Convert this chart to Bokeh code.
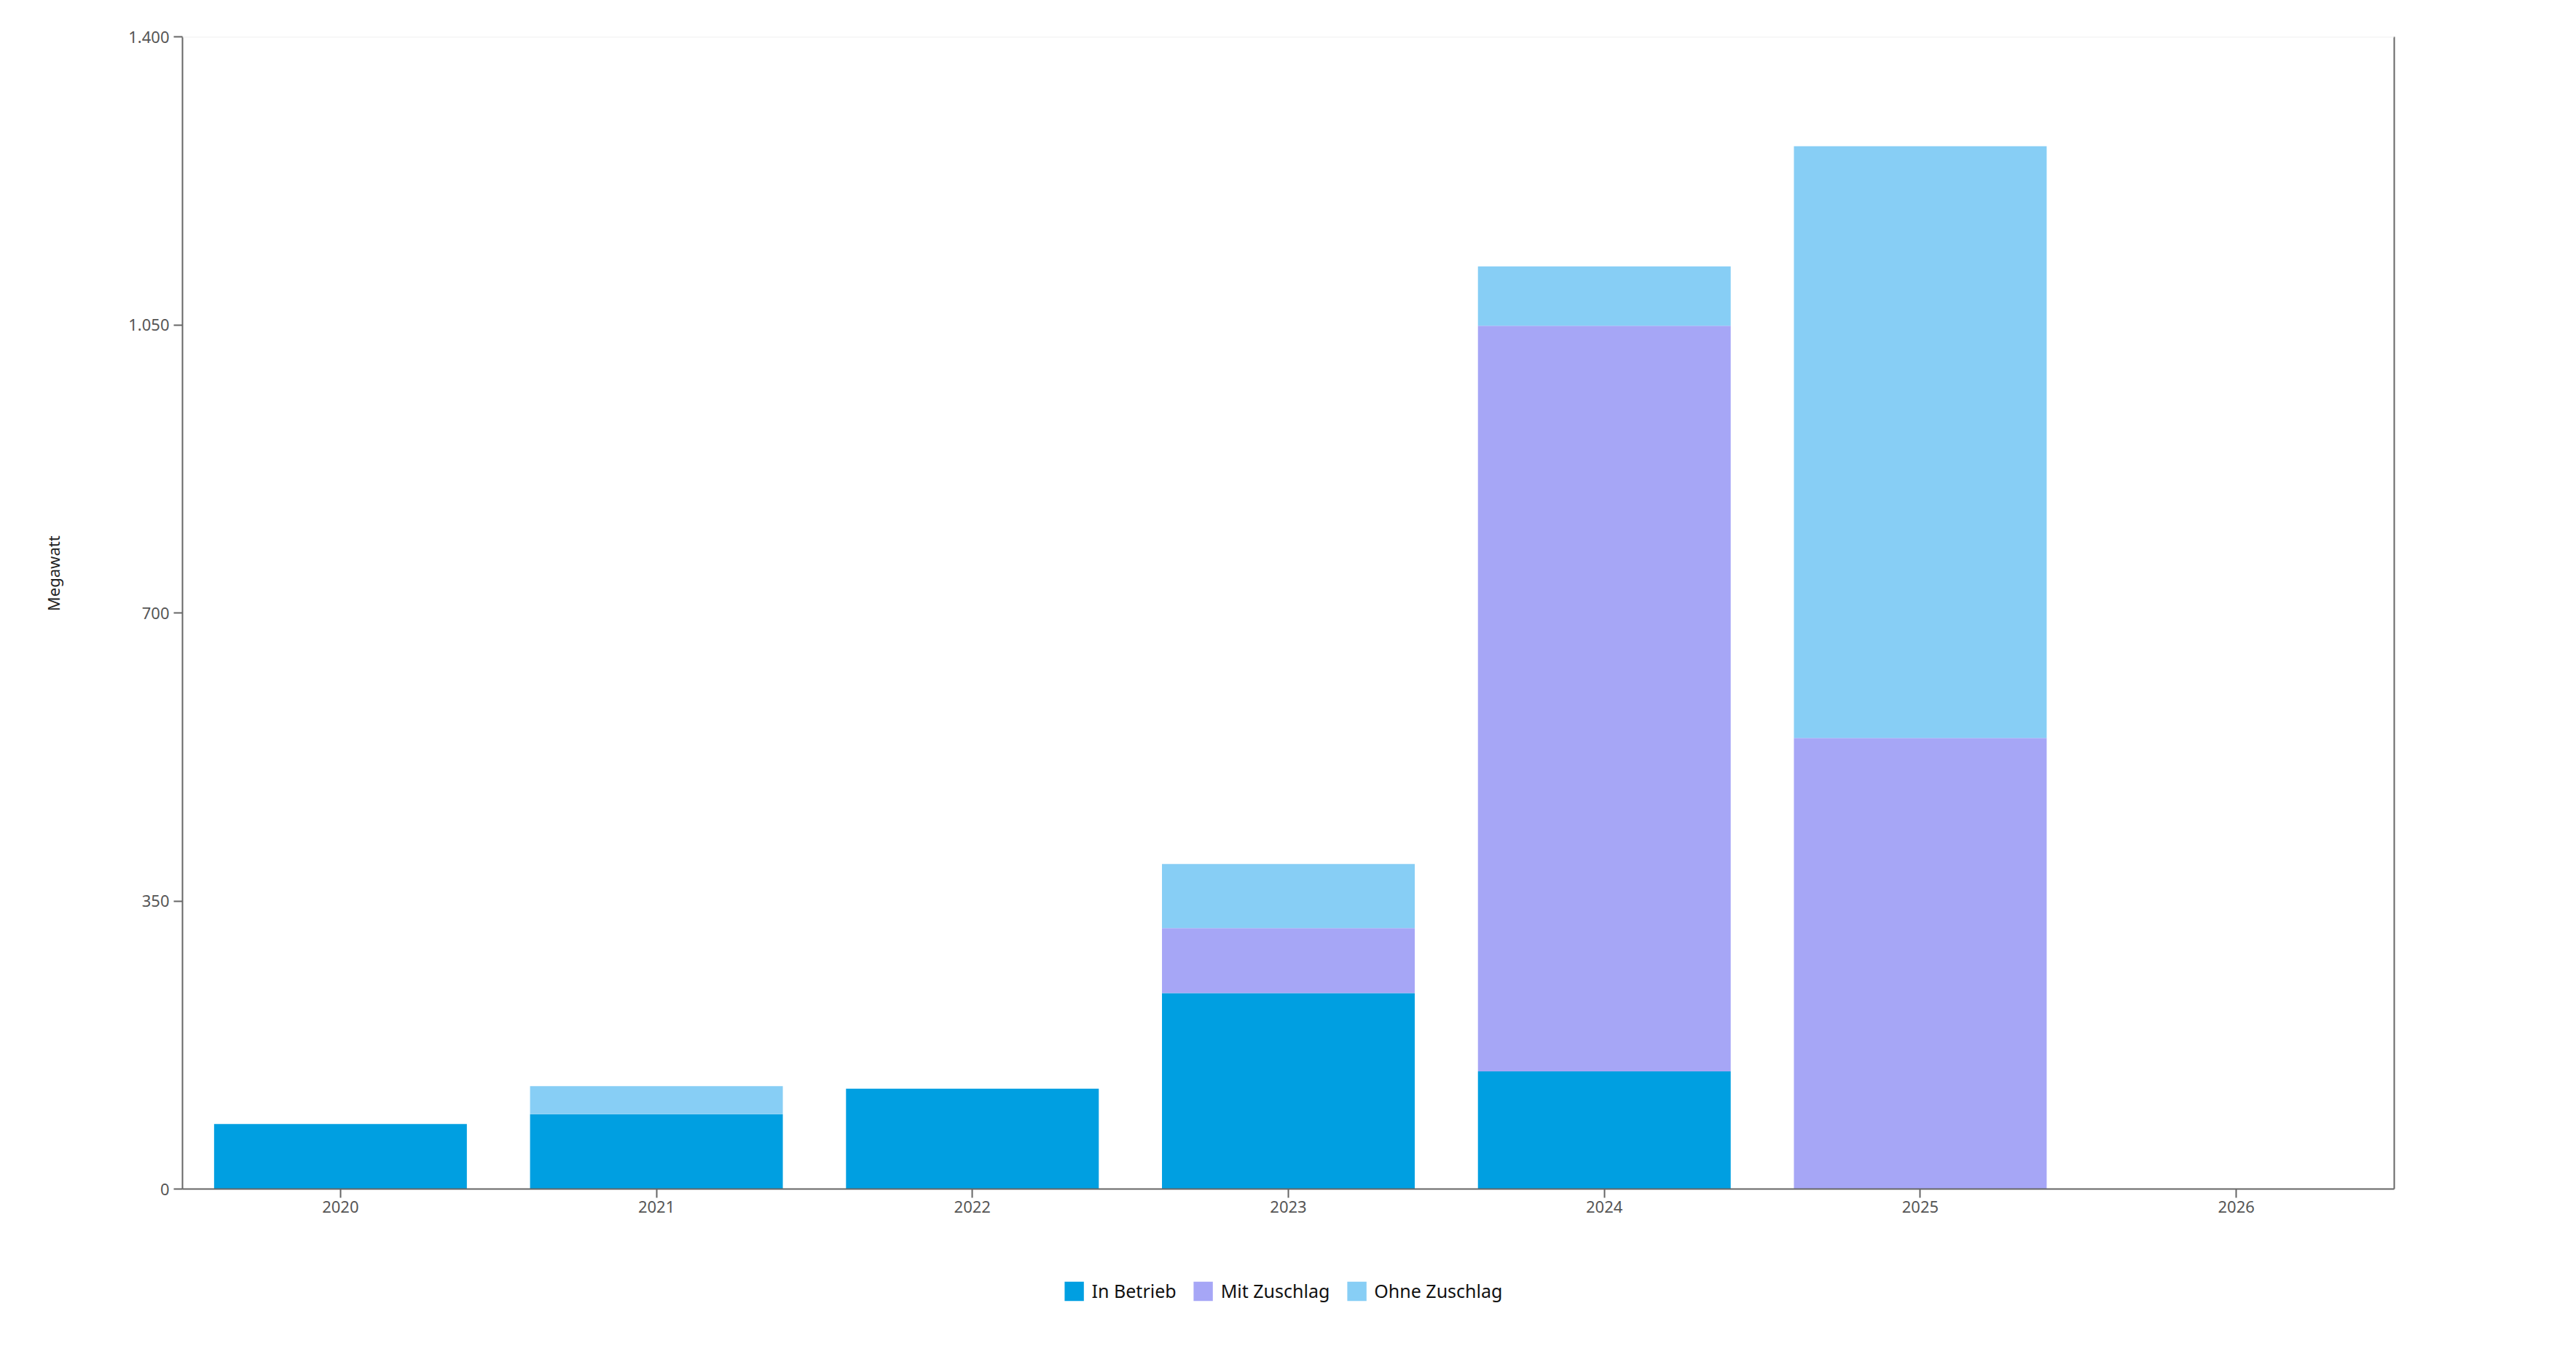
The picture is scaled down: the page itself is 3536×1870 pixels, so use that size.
import math
from bokeh.plotting import figure
from bokeh.layouts import column, row
from bokeh.models import (FactorRange, Range1d, FixedTicker, LinearAxis, Span,
                          Legend, LegendItem, ColumnDataSource)
from bokeh.core.properties import value
from bokeh.embed import file_html
from bokeh.resources import INLINE

years = ["2020", "2021", "2022", "2023", "2024", "2025", "2026"]
in_betrieb = [79, 91, 122, 238, 143, 0, 0]
mit_zuschlag = [0, 0, 0, 79, 906, 548, 0]
ohne_zuschlag = [0, 34, 0, 78, 72, 719, 0]
series = ["In Betrieb", "Mit Zuschlag", "Ohne Zuschlag"]
colors = ["#009FE1", "#A6A6F6", "#87CEF5"]
y_ticks = [0, 350, 700, 1050, 1400]
y_tick_labels = ["0", "350", "700", "1.050", "1.400"]
y_title = "Megawatt"

FONT = "Noto Sans"
W = 3520
YW = 140          # width of the strip holding the y title
H = 1700

src = ColumnDataSource(dict(year=years, **{
    series[0]: in_betrieb, series[1]: mit_zuschlag, series[2]: ohne_zuschlag}))

y_range = Range1d(0, 1400)

p = figure(x_range=FactorRange(factors=years, range_padding=0),
           y_range=y_range,
           width=W - YW, height=H, output_backend="svg", toolbar_location=None,
           min_border_left=250 - YW, min_border_right=234, min_border_top=50,
           min_border_bottom=68)
p.outline_line_color = None
p.background_fill_color = "white"
p.border_fill_color = "white"
p.xgrid.grid_line_color = None
p.ygrid.grid_line_color = None

rs = p.vbar_stack(series, x="year", width=0.8, source=src, color=colors,
                  line_color=None)

for ax in (p.xaxis[0], p.yaxis[0]):
    ax.axis_line_color = "#666666"
    ax.axis_line_width = 2
    ax.major_tick_line_color = "#666666"
    ax.major_tick_line_width = 2
    ax.major_tick_in = 0
    ax.major_tick_out = 12
    ax.minor_tick_line_color = None
    ax.major_label_text_font = FONT
    ax.major_label_text_font_size = "22px"
    ax.major_label_text_color = "#555555"
    ax.major_label_standoff = 6

p.xaxis[0].major_label_standoff = 4
p.yaxis[0].ticker = FixedTicker(ticks=y_ticks)
p.yaxis[0].major_label_overrides = {t: l for t, l in zip(y_ticks, y_tick_labels)}

right = LinearAxis(ticker=FixedTicker(ticks=[]), major_label_text_font_size="0px",
                   axis_line_color="#666666", axis_line_width=2,
                   major_tick_line_color=None, minor_tick_line_color=None)
p.add_layout(right, "right")

p.add_layout(Span(location=1400, dimension="width", line_color="#f0f0f0",
                  line_width=2))

# strip on the left with the y title (slightly above the frame centre)
yf = figure(width=YW, height=H, output_backend="svg", toolbar_location=None,
            x_range=Range1d(0, YW), y_range=y_range,
            x_axis_location=None, y_axis_location=None,
            min_border_left=0, min_border_right=0, min_border_top=0,
            min_border_bottom=0)
yf.outline_line_color = None
yf.xgrid.grid_line_color = None
yf.ygrid.grid_line_color = None
yf.text(x=[72], y=[748], text=[y_title], angle=math.pi / 2,
        text_align="center", text_baseline="middle",
        text_font=value(FONT), text_font_size="22px", text_color="#222222")

# legend strip below the chart
lf = figure(width=W, height=144, output_backend="svg", toolbar_location=None,
            x_range=Range1d(0, 1), y_range=Range1d(0, 1),
            x_axis_location=None, y_axis_location=None,
            min_border_left=0, min_border_right=0, min_border_top=0,
            min_border_bottom=0)
lf.outline_line_color = None
lf.xgrid.grid_line_color = None
lf.ygrid.grid_line_color = None
dummy = [lf.vbar(x=[-10], top=[0], width=0.1, color=c, line_color=None)
         for c in colors]
legend = Legend(items=[LegendItem(label=s, renderers=[r]) for s, r in zip(series, dummy)],
                orientation="horizontal", location="center",
                label_text_font=FONT, label_text_font_size="25px",
                label_text_color="#111111", glyph_width=33, glyph_height=33,
                label_standoff=8, spacing=20, padding=0, margin=0,
                border_line_color=None, background_fill_alpha=0)
lf.add_layout(legend, "center")

layout = column(row(yf, p, spacing=0), lf, spacing=0)
open("out.html", "w").write(file_html(layout, INLINE))
